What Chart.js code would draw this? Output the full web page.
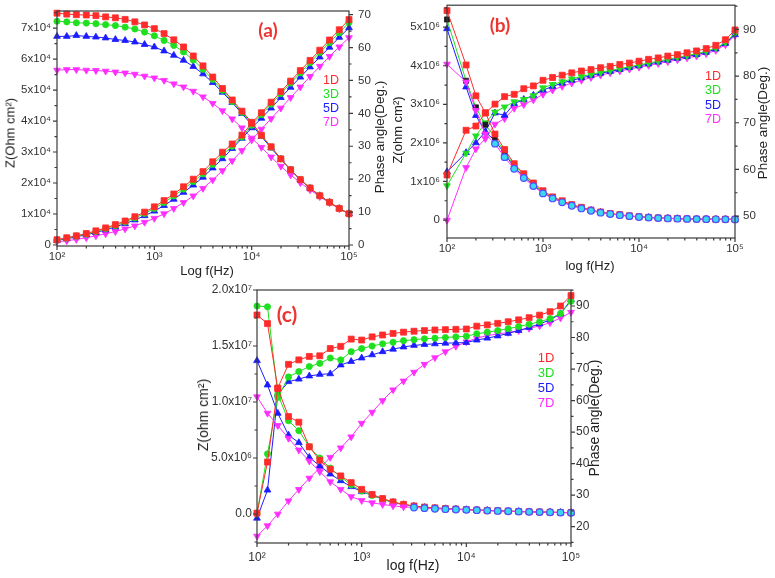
<!DOCTYPE html>
<html><head><meta charset="utf-8">
<script src="https://cdn.jsdelivr.net/npm/chart.js@4.4.1/dist/chart.umd.min.js"></script>
<style>
html,body{margin:0;padding:0;background:#fff;}
body{width:775px;height:578px;position:relative;overflow:hidden;font-family:"Liberation Sans",Arial,sans-serif;}
canvas{position:absolute;}
.t{position:absolute;white-space:nowrap;transform:translate(-50%,-50%);color:#222;font-size:13px;line-height:1;}
.r{transform:translate(-50%,-50%) rotate(-90deg);}
.lab{position:absolute;white-space:nowrap;font-family:Lato,"Open Sans",sans-serif;font-weight:bold;color:#ee3330;transform:translate(-50%,-50%);line-height:1;}
.leg{position:absolute;white-space:nowrap;transform:translate(-50%,-50%);font-size:12.5px;line-height:1;}
</style></head><body>
<canvas id="ca" width="390" height="280" style="left:0;top:0"></canvas>
<canvas id="cb" width="385" height="280" style="left:390px;top:0"></canvas>
<canvas id="cc" width="430" height="298" style="left:180px;top:280px"></canvas>

<div class="t r" style="left:10px;top:133px">Z(Ohm cm²)</div>
<div class="t r" style="left:380px;top:137px;font-size:13.5px">Phase angle(Deg.)</div>
<div class="t" style="left:207px;top:270px">Log f(Hz)</div>
<div class="lab" style="left:268px;top:29px;font-size:19px">(a)</div>
<div class="leg" style="left:331px;top:80px;color:#ff2b2b">1D</div>
<div class="leg" style="left:331px;top:94px;color:#1fe01f">3D</div>
<div class="leg" style="left:331px;top:108px;color:#1c1cff">5D</div>
<div class="leg" style="left:331px;top:122px;color:#ff2eff">7D</div>

<div class="t r" style="left:397px;top:130px">Z(ohm cm²)</div>
<div class="t r" style="left:763px;top:123px;font-size:13.5px">Phase angle(Deg.)</div>
<div class="t" style="left:590px;top:265px">log f(Hz)</div>
<div class="lab" style="left:500px;top:24px;font-size:19px">(b)</div>
<div class="leg" style="left:713px;top:76px;color:#ff2b2b">1D</div>
<div class="leg" style="left:713px;top:90px;color:#1fe01f">3D</div>
<div class="leg" style="left:713px;top:105px;color:#1c1cff">5D</div>
<div class="leg" style="left:713px;top:119px;color:#ff2eff">7D</div>

<div class="t r" style="left:203px;top:415px;font-size:14px">Z(ohm cm²)</div>
<div class="t r" style="left:594px;top:418px;font-size:14px">Phase angle(Deg.)</div>
<div class="t" style="left:413px;top:565px;font-size:14px">log f(Hz)</div>
<div class="lab" style="left:287px;top:313px;font-size:21px">(c)</div>
<div class="leg" style="left:546px;top:357px;color:#ff2b2b;font-size:13px">1D</div>
<div class="leg" style="left:546px;top:372px;color:#1fe01f;font-size:13px">3D</div>
<div class="leg" style="left:546px;top:387px;color:#1c1cff;font-size:13px">5D</div>
<div class="leg" style="left:546px;top:402px;color:#ff2eff;font-size:13px">7D</div>

<script>
// ---------- data ----------
const freqA = [100,126,158,200,251,316,398,501,631,794,1000,1259,1585,1995,2512,3162,3981,5012,6310,7943,10000,12589,15849,19953,25119,31623,39811,50119,63096,79433,100000];
const freqB = [100,158,200,251,316,398,501,631,794,1000,1259,1585,1995,2512,3162,3981,5012,6310,7943,10000,12589,15849,19953,25119,31623,39811,50119,63096,79433,100000];
const freqC = [100,126,158,200,251,316,398,501,631,794,1000,1259,1585,1995,2512,3162,3981,5012,6310,7943,10000,12589,15849,19953,25119,31623,39811,50119,63096,79433,100000];

const seriesNames = ['1D','3D','5D','7D'];

// panel (a)
const aZ1D = [74800,74500,74300,74200,74000,73600,73300,72800,72000,71000,69800,68200,66200,63900,61000,57800,54200,50500,46800,43200,39600,35400,31700,27800,24300,21100,18400,15900,13800,11800,10100];
const aZ3D = [72200,72000,71700,71600,71400,71100,70800,70300,69700,68700,67500,66000,64400,62300,59700,56700,53400,49900,46300,42800,39300,35300,31600,27800,24300,21100,18400,15900,13800,11800,10100];
const aZ5D = [67300,67300,67600,67300,67100,66800,66300,66000,65500,64700,63900,62600,61200,59600,57600,55200,52400,49300,46000,42400,38800,35000,31300,27600,24200,21000,18300,15900,13800,11800,10100];
const aZ7D = [56400,56600,56600,56400,56300,56100,55800,55500,55100,54500,53900,53100,52000,51000,49600,47800,45700,43300,40700,37800,34500,31500,28400,25400,22600,20100,17800,15600,13600,11700,10000];
const aP1D = [1.6,2.2,2.8,3.5,4.3,5.2,6.2,7.3,8.6,10.0,11.6,13.5,15.5,17.7,20.0,22.3,25.3,28.2,30.7,33.4,37.0,40.2,43.4,46.6,49.8,53.0,56.1,59.2,62.3,65.4,68.5];
const aP3D = [1.5,2.1,2.7,3.3,4.1,5.0,5.9,7.0,8.2,9.6,11.1,12.9,14.9,17.0,19.3,21.6,24.5,27.4,30.0,32.8,36.4,39.6,42.8,46.0,49.2,52.3,55.4,58.5,61.5,64.5,67.6];
const aP5D = [1.4,1.9,2.5,3.1,3.8,4.6,5.5,6.5,7.6,8.9,10.3,12.0,13.9,16.0,18.2,20.6,23.4,26.2,29.3,32.4,35.6,38.5,41.6,44.8,47.9,51.0,54.1,57.1,60.1,63.1,66.0];
const aP7D = [1.0,1.3,1.7,2.2,2.8,3.4,4.1,4.9,5.8,6.9,8.1,9.5,11.1,12.9,14.9,17.2,19.8,22.6,25.6,28.7,31.9,35.2,38.4,41.6,44.8,48.0,51.2,54.3,57.3,60.2,63.0];

// panel (b)
const bZ1D = [5.43e6,4.02e6,3.22e6,2.78e6,2.23e6,1.83e6,1.46e6,1.20e6,9.6e5,7.6e5,6.0e5,5.0e5,4.0e5,3.3e5,2.6e5,2.1e5,1.7e5,1.4e5,1.1e5,8.5e4,7.0e4,5.5e4,4.5e4,4.0e4,3.0e4,2.6e4,2.4e4,2.0e4,2.0e4,2.0e4];
const bZ3D = [5.20e6,3.61e6,2.92e6,2.47e6,2.15e6,1.76e6,1.42e6,1.16e6,9.2e5,7.3e5,5.8e5,4.8e5,3.9e5,3.2e5,2.5e5,2.0e5,1.6e5,1.3e5,1.05e5,8.2e4,6.7e4,5.3e4,4.3e4,3.7e4,3.0e4,2.5e4,2.2e4,2.0e4,1.8e4,1.7e4];
const bZ5D = [4.96e6,3.45e6,2.71e6,2.28e6,2.06e6,1.72e6,1.37e6,1.13e6,9.0e5,7.1e5,5.7e5,4.7e5,3.8e5,3.1e5,2.5e5,2.0e5,1.6e5,1.3e5,1.0e5,8.0e4,6.5e4,5.2e4,4.2e4,3.6e4,3.0e4,2.5e4,2.2e4,2.0e4,1.8e4,1.7e4];
const bZ7D = [4.04e6,3.58e6,2.84e6,2.23e6,1.98e6,1.63e6,1.33e6,1.09e6,8.8e5,6.9e5,5.6e5,4.6e5,3.7e5,3.0e5,2.4e5,1.9e5,1.55e5,1.25e5,1.0e5,7.8e4,6.3e4,5.0e4,4.1e4,3.5e4,2.9e4,2.4e4,2.1e4,1.9e4,1.7e4,1.6e4];
const bP1D = [58.8,68.4,69.3,72.1,74.0,75.6,76.1,77.3,77.9,79.1,79.7,80.2,80.7,81.1,81.4,81.8,82.1,82.5,82.8,83.2,83.6,83.9,84.3,84.6,85.0,85.4,85.9,86.6,87.8,89.9];
const bP3D = [56.5,63.5,67.2,70.0,72.3,73.4,74.5,75.0,75.8,77.5,78.2,78.8,79.4,79.9,80.4,80.8,81.2,81.6,82.0,82.4,82.8,83.2,83.6,84.0,84.4,84.8,85.3,86.0,87.2,89.2];
const bP5D = [59.5,63.6,65.7,68.1,72.1,71.6,74.1,75.0,75.9,77.0,77.8,78.5,79.1,79.6,80.1,80.6,81.0,81.4,81.8,82.2,82.6,83.0,83.4,83.8,84.2,84.6,85.1,85.8,87.0,88.9];
const bP7D = [49.1,60.4,64.4,66.6,69.7,70.9,73.1,73.9,74.9,76.1,77.0,77.8,78.5,79.1,79.7,80.2,80.7,81.1,81.5,81.9,82.3,82.7,83.1,83.5,83.9,84.3,84.8,85.5,86.7,88.7];

// panel (c)
const cZ1D = [1.777e7,1.70e7,1.12e7,8.7e6,8.2e6,6.0e6,4.8e6,4.0e6,3.4e6,2.8e6,2.2e6,1.75e6,1.38e6,1.08e6,8.6e5,7.2e5,6.2e5,5.5e5,4.9e5,4.4e5,4.0e5,3.6e5,3.2e5,2.9e5,2.6e5,2.3e5,2.0e5,1.8e5,1.6e5,1.4e5,1.2e5];
const cZ3D = [1.857e7,1.85e7,1.07e7,8.33e6,7.44e6,6.0e6,5.0e6,4.1e6,3.3e6,2.6e6,2.05e6,1.65e6,1.32e6,1.05e6,8.4e5,7.0e5,6.0e5,5.3e5,4.8e5,4.3e5,3.9e5,3.5e5,3.1e5,2.8e5,2.5e5,2.2e5,1.95e5,1.75e5,1.55e5,1.35e5,1.15e5];
const cZ5D = [1.369e7,1.152e7,8.99e6,7.05e6,6.37e6,5.06e6,4.29e6,3.57e6,2.97e6,2.44e6,1.99e6,1.68e6,1.33e6,1.03e6,8.3e5,6.9e5,5.9e5,5.2e5,4.7e5,4.3e5,3.9e5,3.5e5,3.1e5,2.8e5,2.5e5,2.2e5,1.95e5,1.75e5,1.55e5,1.35e5,1.15e5];
const cZ7D = [1.047e7,9.0e6,7.9e6,6.76e6,5.71e6,4.73e6,3.78e6,2.88e6,2.2e6,1.55e6,1.2e6,1.0e6,8.5e5,7.3e5,6.4e5,5.8e5,5.2e5,4.7e5,4.3e5,4.0e5,3.7e5,3.4e5,3.05e5,2.75e5,2.45e5,2.15e5,1.9e5,1.7e5,1.5e5,1.3e5,1.1e5];
const cP1D = [24.3,40.5,64.0,71.5,72.9,74.0,74.2,76.5,77.2,79.5,79.2,80.2,80.8,81.3,81.7,82.0,82.2,82.4,82.5,82.6,82.7,83.6,84.0,84.5,85.0,85.6,86.3,87.1,88.2,90.0,93.3];
const cP3D = [24.3,43.1,61.0,67.5,69.2,70.8,71.8,73.5,72.9,75.5,76.5,77.3,78.0,78.5,79.0,79.3,79.6,79.8,80.0,80.2,80.4,81.2,81.7,82.2,82.8,83.5,84.2,85.0,86.0,87.6,91.5];
const cP5D = [22.7,31.6,62.0,66.0,66.8,67.8,68.3,68.5,71.3,72.4,73.5,74.5,75.5,76.3,77.0,77.5,77.8,78.0,78.2,78.3,78.4,79.2,79.8,80.5,81.3,82.2,83.2,84.3,85.6,87.5,92.0];
const cP7D = [17.0,20.3,24.0,28.2,31.8,35.4,38.6,42.0,45.0,48.5,52.8,56.3,60.0,63.4,66.2,69.0,71.5,73.6,75.5,77.2,78.6,79.8,80.6,81.1,81.6,82.2,82.9,83.7,84.7,86.2,88.0];

// tick values / labels
const xTickVals = [100,1000,10000,100000];
const xTickLabels = ['10²','10³','10⁴','10⁵'];
const aLeftTicks = [0,10000,20000,30000,40000,50000,60000,70000];
const aLeftLabels = ['0','1x10⁴','2x10⁴','3x10⁴','4x10⁴','5x10⁴','6x10⁴','7x10⁴'];
const aRightTicks = [0,10,20,30,40,50,60,70];
const aRightLabels = ['0','10','20','30','40','50','60','70'];
const bLeftTicks = [0,1e6,2e6,3e6,4e6,5e6];
const bLeftLabels = ['0','1x10⁶','2x10⁶','3x10⁶','4x10⁶','5x10⁶'];
const bRightTicks = [50,60,70,80,90];
const bRightLabels = ['50','60','70','80','90'];
const cLeftTicks = [0,5e6,1e7,1.5e7,2e7];
const cLeftLabels = ['0.0','5.0x10⁶','1.0x10⁷','1.5x10⁷','2.0x10⁷'];
const cRightTicks = [20,30,40,50,60,70,80,90];
const cRightLabels = ['20','30','40','50','60','70','80','90'];

// ---------- styling ----------
const RED='#ff2b2b', GRN='#1fe01f', BLU='#1c1cff', MAG='#ff2eff', CYA='#3ad8f0', CYB='#5050ff';

function pts(f, v){ return f.map((x,i)=>({x:x, y:v[i]})); }
function ds(f, v, axis, color, style, order, extra){
  const base = {
    data: pts(f,v), yAxisID: axis, borderColor: color, borderWidth: 1, tension: 0,
    pointStyle: style==='down' ? 'triangle' : style,
    pointRotation: style==='down' ? 180 : 0,
    pointRadius: style==='rect' ? 4.2 : (style==='circle' ? 3.1 : 3.9),
    pointBackgroundColor: color, pointBorderColor: color, pointBorderWidth: 0.8,
    clip: false, order: order, fill: false
  };
  return Object.assign(base, extra||{});
}
function cyanFrom(k, baseStyle, baseColor){
  return {
    pointStyle: c => c.dataIndex >= k ? 'circle' : 'triangle',
    pointRotation: c => c.dataIndex >= k ? 0 : (baseStyle==='down'?180:0),
    pointRadius: c => c.dataIndex >= k ? 3.3 : 3.9,
    pointBackgroundColor: c => c.dataIndex >= k ? CYA : baseColor,
    pointBorderColor: c => c.dataIndex >= k ? CYB : baseColor,
    pointBorderWidth: c => c.dataIndex >= k ? 1.2 : 0.8
  };
}

const frame = {
  id: 'frame',
  afterDraw(chart){
    const {ctx, chartArea:a} = chart; const s = chart.scales;
    ctx.save();
    ctx.strokeStyle = '#3a3a3a'; ctx.lineWidth = 1.2;
    ctx.strokeRect(a.left, a.top, a.right-a.left, a.bottom-a.top);
    ctx.beginPath();
    for (let e=2;e<=4;e++) for (let k=1;k<=9;k++){
      const p = s.x.getPixelForValue(k*Math.pow(10,e));
      const L = k===1 ? 4 : 2.5;
      ctx.moveTo(p,a.bottom); ctx.lineTo(p,a.bottom+L);
    }
    const p5 = s.x.getPixelForValue(1e5); ctx.moveTo(p5,a.bottom); ctx.lineTo(p5,a.bottom+4);
    for (const id of ['yL','yR']){
      const sc = s[id]; const maj = sc.ticks.map(t=>t.value);
      const step = maj[1]-maj[0]; const dir = id==='yL' ? -1 : 1; const x0 = id==='yL' ? a.left : a.right;
      for (let j=-1; j<=2*maj.length+1; j++){
        const v = maj[0] + j*step/2;
        if (v < sc.min || v > sc.max) continue;
        const L = (j%2===0) ? 4 : 2.5;
        const py = sc.getPixelForValue(v);
        ctx.moveTo(x0,py); ctx.lineTo(x0+dir*L,py);
      }
    }
    ctx.stroke(); ctx.restore();
  }
};

function makeChart(id, o){
  const font = {family:'"Liberation Sans", Arial, sans-serif', size:o.fs};
  const yAxis = (pos, min, max, vals, labels, width, pad) => ({
    type:'linear', position:pos, min:min, max:max,
    grid:{display:false, drawTicks:false, tickLength:0}, border:{display:false},
    afterBuildTicks: sc => { sc.ticks = vals.map(v=>({value:v})); },
    afterFit: sc => { sc.width = width; sc.paddingTop = 0; sc.paddingBottom = 0; },
    ticks:{ callback:(v,i)=>labels[i], padding:pad, font:font, color:'#333', autoSkip:false }
  });
  return new Chart(document.getElementById(id), {
    type:'line',
    data:{ datasets:o.datasets },
    options:{
      responsive:false, animation:false, events:[],
      layout:{ padding:{ top:o.top, left:0, right:0, bottom:0 } },
      plugins:{ legend:{display:false}, tooltip:{enabled:false} },
      scales:{
        x:{ type:'logarithmic', min:100, max:100000,
          grid:{display:false, drawTicks:false, tickLength:0}, border:{display:false},
          afterBuildTicks: sc => { sc.ticks = xTickVals.map(v=>({value:v})); },
          afterFit: sc => { sc.height = o.xh; sc.paddingLeft = 0; sc.paddingRight = 0; },
          ticks:{ callback:(v,i)=>xTickLabels[i], padding:o.xpad, font:font, color:'#333', autoSkip:false, maxRotation:0 } },
        yL: yAxis('left', o.yL[0], o.yL[1], o.yL[2], o.yL[3], o.yL[4], o.yL[5]),
        yR: yAxis('right', o.yR[0], o.yR[1], o.yR[2], o.yR[3], o.yR[4], o.yR[5])
      }
    },
    plugins:[frame]
  });
}

// panel (a)
makeChart('ca', {
  top:11, xh:34, xpad:4, fs:11.5,
  yL:[-320, 75500, aLeftTicks, aLeftLabels, 57, 6],
  yR:[-0.3, 71.1, aRightTicks, aRightLabels, 41, 9],
  datasets:[
    ds(freqA, aZ1D, 'yL', RED, 'rect', 1),
    ds(freqA, aZ3D, 'yL', GRN, 'circle', 3),
    ds(freqA, aZ5D, 'yL', BLU, 'triangle', 5),
    ds(freqA, aZ7D, 'yL', MAG, 'down', 7),
    ds(freqA, aP1D, 'yR', RED, 'rect', 2),
    ds(freqA, aP3D, 'yR', GRN, 'circle', 4),
    ds(freqA, aP5D, 'yR', BLU, 'triangle', 6),
    ds(freqA, aP7D, 'yR', MAG, 'down', 8)
  ]
});

// panel (b)
makeChart('cb', {
  top:5, xh:42, xpad:4, fs:11.5,
  yL:[-466000, 5570000, bLeftTicks, bLeftLabels, 57, 7],
  yR:[45.3, 95.2, bRightTicks, bRightLabels, 40, 8],
  datasets:[
    ds(freqB, bZ7D, 'yL', MAG, 'down', 0, cyanFrom(4,'down',MAG)),
    ds(freqB, bZ1D, 'yL', RED, 'rect', 1),
    ds(freqB, bZ3D, 'yL', GRN, 'rect', 3, {pointBackgroundColor:'#1a1a1a', pointBorderColor:'#1a1a1a', pointRadius:3.6}),
    ds(freqB, bZ5D, 'yL', BLU, 'triangle', 5),
    ds(freqB, bP1D, 'yR', RED, 'rect', 2),
    ds(freqB, bP3D, 'yR', GRN, 'down', 4),
    ds(freqB, bP5D, 'yR', BLU, 'triangle', 6),
    ds(freqB, bP7D, 'yR', MAG, 'down', 8)
  ]
});

// panel (c)
makeChart('cc', {
  top:10, xh:35, xpad:7, fs:12,
  yL:[-2590000, 20000000, cLeftTicks, cLeftLabels, 77, 5],
  yR:[14.83, 95.07, cRightTicks, cRightLabels, 39, 5],
  datasets:[
    ds(freqC, cZ7D, 'yL', MAG, 'down', 0, cyanFrom(15,'down',MAG)),
    ds(freqC, cZ1D, 'yL', RED, 'rect', 1),
    ds(freqC, cZ3D, 'yL', GRN, 'circle', 3),
    ds(freqC, cZ5D, 'yL', BLU, 'triangle', 5),
    ds(freqC, cP1D, 'yR', RED, 'rect', 2),
    ds(freqC, cP3D, 'yR', GRN, 'circle', 4),
    ds(freqC, cP5D, 'yR', BLU, 'triangle', 6),
    ds(freqC, cP7D, 'yR', MAG, 'down', 8)
  ]
});
</script>
</body></html>
